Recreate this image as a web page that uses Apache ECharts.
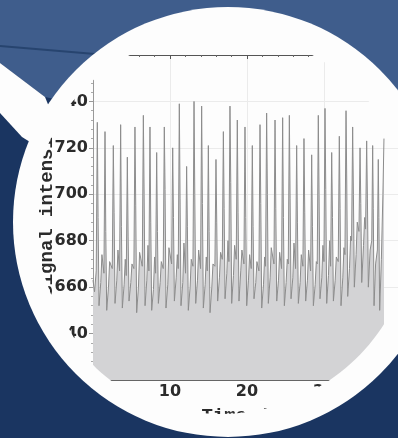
<!DOCTYPE html>
<html>
<head>
<meta charset="utf-8">
<script src="https://cdn.jsdelivr.net/npm/echarts@6/dist/echarts.min.js"></script>
<style>
  html, body { margin: 0; padding: 0; width: 398px; height: 438px; overflow: hidden; }
  #bg, #chart { position: absolute; left: 0; top: 0; width: 398px; height: 438px; }
</style>
</head>
<body>
<div id="bg"></div>
<div id="chart"></div>
<script>
// time (s) of each sample, one spike cycle per line
const time = [
  0, 0.2,
  0.42, 0.56, 0.66, 0.78, 1.01, 1.16,
  1.42, 1.56, 1.66, 1.78, 2.01, 2.16,
  2.50, 2.64, 2.74, 2.86, 3.09, 3.24,
  3.45, 3.59, 3.69, 3.81, 4.04, 4.19,
  4.32, 4.46, 4.56, 4.68, 4.91, 5.06,
  5.31, 5.45, 5.55, 5.67, 5.90, 6.05,
  6.40, 6.54, 6.64, 6.76, 6.99, 7.14,
  7.26, 7.40, 7.50, 7.62, 7.85, 8.00,
  8.13, 8.27, 8.37, 8.49, 8.72, 8.87,
  9.12, 9.26, 9.36, 9.48, 9.71, 9.86,
  10.21, 10.35, 10.45, 10.57, 10.80, 10.95,
  11.07, 11.21, 11.31, 11.43, 11.66, 11.81,
  12.02, 12.16, 12.26, 12.38, 12.61, 12.76,
  12.98, 13.12, 13.22, 13.34, 13.57, 13.72,
  13.97, 14.11, 14.21, 14.33, 14.56, 14.71,
  14.84, 14.98, 15.08, 15.20, 15.43, 15.58,
  15.83, 15.97, 16.07, 16.19, 16.42, 16.57,
  16.79, 16.93, 17.03, 17.15, 17.38, 17.53,
  17.65, 17.79, 17.89, 18.01, 18.24, 18.39,
  18.60, 18.74, 18.84, 18.96, 19.19, 19.34,
  19.60, 19.74, 19.84, 19.96, 20.19, 20.34,
  20.55, 20.69, 20.79, 20.91, 21.14, 21.29,
  21.55, 21.69, 21.79, 21.91, 22.14, 22.29,
  22.41, 22.55, 22.65, 22.77, 23.00, 23.15,
  23.50, 23.64, 23.74, 23.86, 24.09, 24.24,
  24.49, 24.63, 24.73, 24.85, 25.08, 25.23,
  25.36, 25.50, 25.60, 25.72, 25.95, 26.10,
  26.31, 26.45, 26.55, 26.67, 26.90, 27.05,
  27.26, 27.40, 27.50, 27.62, 27.85, 28.00,
  28.26, 28.40, 28.50, 28.62, 28.85, 29.00,
  29.12, 29.26, 29.36, 29.48, 29.71, 29.86,
  29.99, 30.13, 30.23, 30.35, 30.58, 30.73,
  30.86, 31.00, 31.10, 31.22, 31.45, 31.60,
  31.85, 31.99, 32.09, 32.21, 32.44, 32.59,
  32.72, 32.86, 32.96, 33.08, 33.31, 33.46,
  33.58, 33.72, 33.82, 33.94, 34.17, 34.32,
  34.54, 34.68, 34.78, 34.90, 35.13, 35.28,
  35.40, 35.54, 35.64, 35.76, 35.99,
  36.20, 36.32, 36.40, 36.50, 36.70,
  36.93, 37.05, 37.13, 37.23, 37.45,
  37.65, 37.79
];

// signal intensity at each time above
const intensity = [
  663, 658,
  667, 731, 690, 652, 662, 674,
  666, 727, 684, 650, 660, 671,
  668, 721, 692, 653, 663, 676,
  667, 730, 686, 651, 661, 672,
  665, 716, 682, 654, 662, 670,
  668, 729, 695, 649, 660, 675,
  669, 734, 700, 652, 663, 678,
  667, 729, 688, 650, 659, 673,
  666, 718, 684, 653, 662, 671,
  668, 729, 702, 651, 661, 677,
  670, 720, 690, 654, 664, 674,
  668, 739, 698, 652, 662, 679,
  666, 712, 686, 650, 660, 672,
  669, 740, 700, 653, 663, 676,
  668, 738, 696, 651, 661, 673,
  667, 721, 684, 649, 660, 670,
  669, 715, 688, 654, 664, 675,
  672, 727, 694, 655, 666, 680,
  671, 738, 705, 653, 665, 678,
  672, 732, 692, 654, 667, 676,
  670, 729, 690, 652, 663, 674,
  668, 721, 686, 655, 662, 671,
  667, 730, 696, 651, 661, 673,
  669, 735, 700, 653, 664, 677,
  670, 732, 694, 654, 663, 675,
  668, 733, 690, 652, 662, 672,
  670, 734, 698, 655, 664, 679,
  668, 721, 688, 653, 662, 674,
  669, 724, 692, 654, 663, 676,
  667, 717, 686, 652, 661, 671,
  670, 734, 700, 655, 664, 678,
  671, 737, 702, 653, 665, 680,
  669, 718, 690, 654, 663, 673,
  671, 725, 694, 652, 664, 677,
  674, 736, 704, 656, 668, 682,
  680, 729, 700, 660, 674, 688,
  684, 720, 696, 662, 678, 690,
  685, 723, 698, 660, 676,
  680, 721, 694, 652, 670,
  676, 715, 690, 650, 672,
  700, 724
];

const xName = 'Time (s)';
const yName = 'Signal intensity';

// outline of the magnifier lens the plot is seen through (degrees, px from centre)
const lensAngles = [-180, -157.5, -141.6, -118.9, -90, -61.1, -39, 0, 34.7, 55.7, 91.8, 124.7, 131.4, 144, 160.1, 180];
const lensRadii = [187, 188.5, 190, 188.5, 187, 188.5, 189.5, 193, 193.5, 193.5, 194, 194.7, 193.4, 187, 185, 187];
var lensPts = [];
for (var a = -180; a < 180; a += 2) {
    var k = 0;
    while (lensAngles[k + 1] < a) k++;
    var f = (a - lensAngles[k]) / (lensAngles[k + 1] - lensAngles[k]);
    var r = lensRadii[k] + f * (lensRadii[k + 1] - lensRadii[k]);
    var rad = a * Math.PI / 180;
    lensPts.push((221 + r * Math.cos(rad)).toFixed(1) + 'px ' + (220 + r * Math.sin(rad)).toFixed(1) + 'px');
}
document.getElementById('chart').style.clipPath = 'polygon(' + lensPts.join(',') + ')';

// backdrop: blue wall, white lens
var bg = echarts.init(document.getElementById('bg'));
bg.setOption({
  graphic: [
    { type: 'rect', shape: { x: 0, y: 0, width: 398, height: 438 }, style: { fill: '#1a3561' } },
    { type: 'polygon', shape: { points: [[0, 0], [398, 0], [398, 170], [45, 97], [0, 63]] }, style: { fill: '#3f5d8c' } },
    { type: 'line', shape: { x1: 0, y1: 46, x2: 95, y2: 54 }, style: { stroke: '#27446f', lineWidth: 2 } },
    { type: 'polygon', shape: { points: [[0, 63], [45, 97], [75, 170], [22, 137], [0, 113]] }, style: { fill: '#fdfdfd' } },
    { type: 'circle', shape: { cx: 228, cy: 222, r: 215 }, style: { fill: '#fdfdfd' } }
  ]
});

var myChart = echarts.init(document.getElementById('chart'));
const labelFont = { color: '#2b2b2b', fontFamily: 'DejaVu Sans', fontWeight: 'bold', fontSize: 16 };
const nameFont = { color: '#2b2b2b', fontFamily: 'Liberation Mono', fontWeight: 'bold', fontSize: 19 };

myChart.setOption({
  animation: false,
  grid: { left: 93, top: 55, width: 308, height: 325, outerBoundsMode: 'none' },
  xAxis: [
    {
      type: 'value',
      min: 0, max: 40, interval: 10,
      name: xName,
      nameLocation: 'middle',
      nameGap: 27,
      nameMoveOverlap: false,
      nameTextStyle: nameFont,
      axisLine: { lineStyle: { color: '#666' } },
      axisTick: { inside: true, length: 4, lineStyle: { color: '#666' } },
      minorTick: { show: true, splitNumber: 5, length: 2, lineStyle: { color: '#777' } },
      axisLabel: Object.assign({ margin: 4 }, labelFont),
      splitLine: { show: true, lineStyle: { color: '#ebebeb' } }
    },
    {
      type: 'value',
      position: 'top',
      min: 0, max: 40, interval: 10,
      axisLine: { show: true, lineStyle: { color: '#555' } },
      axisTick: { inside: true, length: 4, lineStyle: { color: '#555' } },
      minorTick: { show: true, splitNumber: 5, length: 2, lineStyle: { color: '#666' } },
      axisLabel: { show: false },
      splitLine: { show: false }
    }
  ],
  yAxis: {
    type: 'value',
    min: 620, max: 760, interval: 20,
    name: yName,
    nameLocation: 'middle',
    nameGap: 36,
    nameRotate: 90,
    nameMoveOverlap: false,
    nameTextStyle: Object.assign({ padding: [0, 0, 0, 24] }, nameFont),
    axisLine: { show: true, lineStyle: { color: '#999' } },
    axisTick: { show: true, length: 4, lineStyle: { color: '#999' } },
    minorTick: { show: true, splitNumber: 5, length: 2, lineStyle: { color: '#aaa' } },
    axisLabel: Object.assign({ margin: 5 }, labelFont),
    splitLine: { show: true, lineStyle: { color: '#ebebeb' } }
  },
  series: [
    {
      type: 'line',
      data: time.map((t, i) => [t, intensity[i]]),
      showSymbol: false,
      lineStyle: { color: '#8c8c8c', width: 1 },
      areaStyle: { color: '#d3d3d5', opacity: 1, origin: 'start' }
    }
  ]
});
</script>
</body>
</html>
